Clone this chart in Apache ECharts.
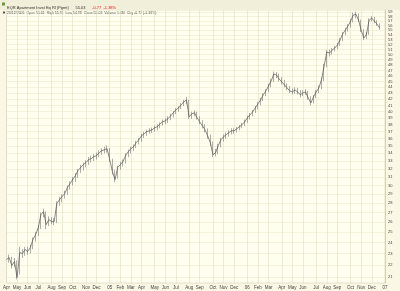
<!DOCTYPE html>
<html><head><meta charset="utf-8">
<script src="https://cdn.jsdelivr.net/npm/echarts@6/dist/echarts.min.js"></script>
<style>html,body{margin:0;padding:0;background:#faf8e4}#c{width:400px;height:291px}</style>
</head><body><div id="c"></div>
<script>
// Weekly closes / highs / lows, Apr 2004 - Dec 2006
const startDate = '2004-04-09';
const weekCount = 144;
const closes = [
22.47,22.64,21.95,22.29,20.95,23.09,23.00,23.36,23.18,23.54,
24.29,24.76,25.45,26.77,27.09,25.75,26.26,26.05,26.05,27.94,
28.38,28.72,29.06,29.75,30.21,30.69,31.17,31.79,32.16,32.54,
32.79,33.18,33.31,33.57,33.70,34.09,34.36,34.49,34.63,33.18,
31.66,30.69,32.16,32.54,32.92,33.70,34.23,34.63,34.90,35.45,
35.86,36.42,36.71,37.00,37.14,37.28,37.58,37.72,38.16,38.46,
38.61,38.91,39.37,39.83,40.29,40.61,41.09,41.57,41.89,39.22,
39.68,39.83,39.07,38.46,37.87,37.28,36.42,35.45,33.83,34.09,
35.03,35.86,36.28,36.57,36.85,37.14,37.14,37.43,37.72,38.02,
38.46,39.07,39.52,39.99,40.61,41.25,41.89,42.72,43.39,44.24,
45.11,46.35,46.17,45.46,44.94,44.42,43.90,43.39,43.22,43.56,
43.22,42.72,43.05,43.22,42.22,41.41,42.39,43.22,43.90,45.29,
47.81,50.50,50.30,50.89,51.29,51.89,52.91,54.16,55.01,55.87,
56.97,58.32,58.54,57.19,55.01,53.32,54.16,57.19,57.64,56.97,
56.31,55.44
];
const highs = [
22.9,22.9,22.7,22.6,22.4,23.6,23.4,23.6,23.6,23.8,
24.5,25.0,25.7,27.0,27.4,27.1,26.6,26.5,26.4,28.2,
28.7,29.0,29.4,30.0,30.5,31.0,31.5,32.0,32.5,32.8,
33.1,33.5,33.7,33.9,34.1,34.4,34.7,34.9,35.1,34.7,
33.3,31.9,32.4,32.9,33.2,34.0,34.5,34.9,35.2,35.7,
36.1,36.7,37.0,37.3,37.5,37.6,37.9,38.1,38.4,38.8,
39.0,39.3,39.7,40.1,40.6,40.9,41.4,41.9,42.4,41.9,
40.0,40.2,40.0,39.3,38.7,38.1,37.5,36.6,35.6,34.6,
35.3,36.1,36.6,36.9,37.2,37.5,37.5,37.7,38.0,38.3,
38.8,39.4,39.8,40.3,40.9,41.6,42.2,43.0,43.7,44.6,
45.5,46.8,46.7,46.4,45.8,45.3,44.7,44.2,43.8,44.0,
43.9,43.5,43.5,43.7,43.4,42.5,42.7,43.6,44.3,45.7,
48.2,50.9,51.0,51.3,51.7,52.3,53.3,54.6,55.5,56.3,
57.4,58.9,59.1,58.7,57.3,55.2,54.6,57.6,58.1,57.9,
57.2,56.5
];
const lows = [
22.1,22.2,21.7,21.8,20.8,21.2,22.6,22.8,22.9,23.0,
23.4,24.1,24.6,25.3,26.5,25.3,25.6,25.8,25.7,25.9,
27.7,28.1,28.5,28.9,29.5,30.0,30.4,30.9,31.5,31.8,
32.2,32.5,32.8,33.0,33.2,33.5,33.8,34.0,34.1,32.9,
31.3,30.4,30.8,31.9,32.3,32.7,33.5,34.0,34.3,34.7,
35.2,35.6,36.1,36.4,36.7,36.8,37.0,37.2,37.5,37.9,
38.1,38.3,38.7,39.1,39.6,40.0,40.4,40.9,41.2,38.9,
38.9,39.3,38.8,38.1,37.5,36.9,36.0,35.0,33.5,33.6,
33.9,34.8,35.6,36.0,36.3,36.6,36.7,36.9,37.2,37.5,
37.8,38.3,38.8,39.3,39.8,40.4,41.0,41.7,42.5,43.2,
44.0,44.9,45.6,45.0,44.5,44.0,43.5,43.0,42.8,42.9,
42.8,42.3,42.5,42.7,41.9,41.0,41.3,42.2,43.0,43.7,
45.1,47.6,49.6,50.0,50.6,51.1,51.7,52.7,53.9,54.7,
55.6,56.7,57.6,56.8,54.6,52.9,53.1,54.0,56.9,56.5,
55.9,55.1
];
const yTicks = [21,22,23,24,25,26,27,28,29,30,31,32,33,34,35,36,37,38,39,40,41,42,43,44,45,46,47,48,49,50,51,52,53,54,55,56,57,58,59];
const monthNames = ['Jan','Feb','Mar','Apr','May','Jun','Jul','Aug','Sep','Oct','Nov','Dec'];
const titleName = 'EQR Apartment Invst Eq Rl (Pgmt)';
const titlePrice = '55.03';
const titleChange = '-0.77  -1.38%';
const infoText = '26/12/2006  Open 55.61  High 55.91  Low 54.98  Close 55.03  Volume 1.4M  Chg -0.77 (-1.38%)';

const cats = [];
const d0 = new Date(startDate + 'T00:00:00Z');
for (let i = 0; i < weekCount; i++) {
  const d = new Date(d0.getTime() + i * 7 * 86400000);
  cats.push(d.toISOString().slice(0, 10));
}
function monthOf(s){ return +s.slice(5,7); }
function isMonthStart(idx){
  if (idx === 0) return true;
  return monthOf(cats[idx]) !== monthOf(cats[idx-1]);
}
function labelOf(s){
  const m = monthOf(s);
  if (m === 1) return s.slice(2,4);
  return monthNames[m-1];
}
const ohlc = closes.map((c, i) => {
  const o = i === 0 ? c : closes[i-1];
  return [o, c, lows[i], highs[i]];
});

const chart = echarts.init(document.getElementById('c'), null, {renderer:'canvas'});
chart.setOption({
  animation:false,
  backgroundColor:'#faf8e4',
  grid:{left:2, right:15, top:10, bottom:8, show:true, backgroundColor:'#fffff0', borderColor:'#c9c5a8', borderWidth:0.5},
  graphic:[
    {type:'rect', left:0, top:0, shape:{width:400,height:10}, style:{fill:'#f1eed9'}, silent:true},
    {type:'rect', left:2, top:2.5, shape:{width:3,height:3}, style:{fill:'#6a9a3a'}},
    {type:'text', left:7, top:2, style:{
      text:'{n|' + titleName + '}  {p|' + titlePrice + '}  {c|' + titleChange + '}',
      rich:{n:{fontSize:4, fill:'#333', fontFamily:'sans-serif'}, p:{fontSize:4, fill:'#333', fontFamily:'sans-serif'}, c:{fontSize:4, fill:'#d22', fontFamily:'sans-serif'}}
    }},
    {type:'rect', left:3, top:11.5, shape:{width:2,height:2}, style:{fill:'#555'}},
    {type:'text', left:7, top:11, style:{text:infoText, font:'3.5px sans-serif', fill:'#444'}}
  ],
  xAxis:{
    type:'category', data:cats, boundaryGap:false,
    axisLine:{show:false}, axisTick:{show:false},
    axisLabel:{interval:(i)=>isMonthStart(i), formatter:(v)=>labelOf(v), fontSize:4.5, color:'#444', margin:2, fontFamily:'sans-serif'},
    splitLine:{show:true, interval:(i)=>isMonthStart(i), lineStyle:{color:'#e2dec0', width:0.6}}
  },
  yAxis:{
    type:'log', logBase:10, min:20.5, max:59.5, position:'right',
    axisLine:{show:true, lineStyle:{color:'#c9c5a8', width:0.6}},
    axisTick:{show:false, customValues:yTicks},
    axisLabel:{customValues:yTicks, fontSize:4, color:'#444', margin:3, fontFamily:'sans-serif'},
    splitLine:{show:true, lineStyle:{color:'#e8e4c6', width:0.5}}
  },
  series:[
    {
      type:'candlestick', data:ohlc, barMaxWidth:0.8,
      itemStyle:{color:'#777', color0:'#777', borderColor:'#777', borderColor0:'#777', borderWidth:0.6}
    },
    {
      type:'line', data:closes, symbol:'none',
      lineStyle:{color:'#555', width:0.7}
    }
  ]
});
</script>
</body></html>
